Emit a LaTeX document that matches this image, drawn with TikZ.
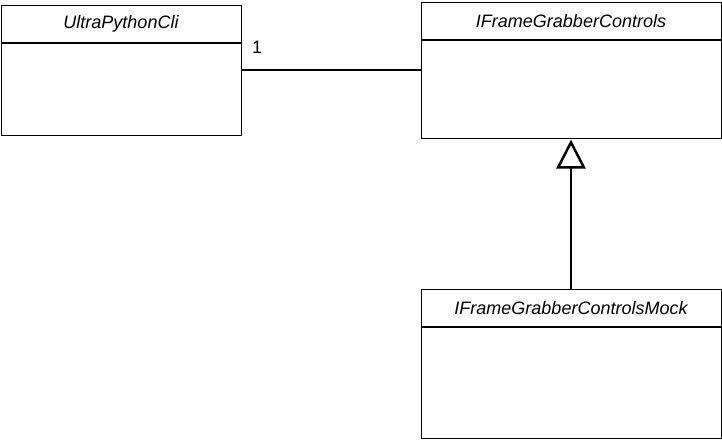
\documentclass[tikz,border=0pt]{standalone}
\usepackage{fontspec}
\setmainfont{Liberation Sans}
\usetikzlibrary{arrows.meta}
\begin{document}
\begin{tikzpicture}[x=1pt,y=-1pt,
  classbox/.style={draw,line width=1.2pt,inner sep=0pt,anchor=north west},
  classtitle/.style={font=\fontsize{18}{20}\selectfont\itshape,inner sep=0pt},
  assoc/.style={line width=1.2pt},
  inherit/.style={line width=2.5pt,-{Triangle[open,length=29pt,width=29pt,line width=2.5pt]}},
  mult/.style={font=\fontsize{18}{20}\selectfont,inner sep=0pt,anchor=base west}]
\useasboundingbox (0,0) rectangle (722,440);
% UltraPythonCli
\node[classbox,minimum width=240pt,minimum height=130pt] (cli) at (1,5) {};
\draw[line width=1.2pt] (1,43) -- (241,43);
\node[classtitle] (clit) at (121,24) {UltraPythonCli};
% IFrameGrabberControls
\node[classbox,minimum width=300pt,minimum height=136pt] (ctl) at (421,2) {};
\draw[line width=1.2pt] (421,40) -- (721,40);
\node[classtitle] (ctlt) at (571,21) {IFrameGrabberControls};
% IFrameGrabberControlsMock
\node[classbox,minimum width=300pt,minimum height=149pt] (mock) at (421,289) {};
\draw[line width=1.2pt] (421,327) -- (721,327);
\node[classtitle] (mockt) at (571,308) {IFrameGrabberControlsMock};
% association
\coordinate (a1) at (cli.east |- 0,70);
\coordinate (a2) at (ctl.west |- 0,70);
\draw[assoc] (a1) -- (a2);
\node[mult] (m1) at (252,53) {1};
% inheritance
\coordinate (i1) at (571,289);
\coordinate (i2) at (571,139.5);
\draw[inherit] (i1) -- (i2);
\end{tikzpicture}
\end{document}
